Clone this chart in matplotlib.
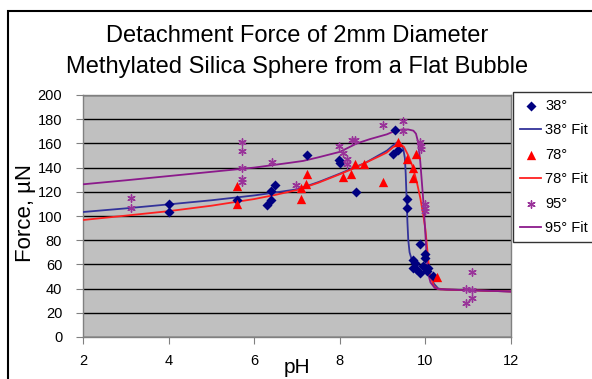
"""Detachment force vs pH for a methylated silica sphere (Excel-style chart)."""
import matplotlib
matplotlib.use('Agg')
import matplotlib.pyplot as plt
import matplotlib.patches as mpatches

plt.rcParams['font.family'] = ['Liberation Sans', 'DejaVu Sans']

# ── Measured points ───────────────────────────────────────────────────────
ph38 = [4.0, 4.0, 5.6, 6.3, 6.39, 6.39, 6.48, 7.24, 7.99, 8.0, 8.37, 9.25, 9.29,
        9.37, 9.58, 9.58, 9.87, 9.99, 9.99, 9.72, 9.76, 9.72, 9.79, 9.87, 9.95,
        10.07, 10.03, 10.18]
f38 = [110, 103, 113, 108.7, 113.4, 120.6, 125.9, 150.5, 146.5, 144, 120, 151.5, 171,
       154.6, 113.7, 107, 76.6, 68.3, 65, 64, 61.4, 57.3, 56, 53, 58.7,
       57.3, 54.5, 50.4]

ph78 = [5.6, 5.6, 7.1, 7.1, 7.2, 7.24, 8.07, 8.26, 8.36, 8.57, 9.0, 9.37, 9.56,
        9.7, 9.7, 9.78, 10.26]
f78 = [124.8, 110.2, 123, 114, 126.7, 134.4, 132, 134.5, 142.6, 142.6, 128.5, 161.5, 147,
       140, 131, 151.5, 49.8]

ph95 = [3.11, 3.11, 5.71, 5.71, 5.71, 5.71, 5.71, 6.41, 6.98, 7.99, 8.08, 8.17, 8.17,
        8.28, 8.36, 9.0, 9.48, 9.48, 9.87, 9.9, 9.9, 9.99, 9.99, 9.99,
        11.08, 10.96, 11.08, 11.08, 10.96]
f95 = [114.6, 107, 161, 154, 140, 130.6, 127.9, 145, 126, 158, 152, 147, 143,
       163, 163, 175, 178.5, 170, 160.8, 158, 155, 110, 107, 104,
       54, 39.5, 38.5, 32, 28.5]

# ── Fitted curves ─────────────────────────────────────────────────────────
fit38_ph = [2, 3, 4, 5, 6, 6.5, 7, 7.5, 8, 8.3, 8.6, 8.9, 9.1, 9.25, 9.35, 9.42,
            9.48, 9.52, 9.54, 9.56, 9.58, 9.6, 9.63, 9.68, 9.75, 9.85, 10.0,
            10.1, 10.2, 10.3, 10.5, 11, 12]
fit38_f = [103.3, 106.3, 109.6, 113, 117, 119.5, 122, 128, 135, 139.5, 144, 150,
           154, 158.5, 161, 160, 156, 148, 135, 115, 95, 80, 70, 64, 61, 59, 57,
           52, 44, 40, 39.2, 38.7, 37.6]

fit78_ph = [2, 3, 4, 5, 6, 6.5, 7, 7.5, 8, 8.3, 8.6, 8.9, 9.1, 9.25, 9.4, 9.5,
            9.6, 9.7, 9.8, 9.88, 9.95, 10.0, 10.05, 10.1, 10.2, 10.3, 10.5, 11, 12]
fit78_f = [96.7, 100.3, 104, 108.5, 114, 117.5, 121.5, 127.5, 134.5, 139, 144, 149,
           152.5, 157, 160, 157, 150, 141, 128, 115, 101, 89, 70, 52, 42, 39.5,
           39.2, 38.7, 37.6]

fit95_ph = [2, 3, 4, 5, 6, 6.84, 7.14, 7.5, 8, 8.4, 8.7, 9.1, 9.3, 9.45, 9.6, 9.72,
            9.78, 9.83, 9.88, 9.95, 10.0, 10.03, 10.06, 10.12, 10.22, 10.35, 11, 12]
fit95_f = [126.2, 129.5, 133, 136.5, 140, 144, 145.5, 148.5, 153, 160, 163.5, 167.5,
           170.5, 171.5, 171.5, 170.5, 168, 161, 145, 113, 85, 66, 53, 45, 40.5,
           39.4, 38.7, 37.6]

BLUE_M, BLUE_L = '#000080', '#33339a'
RED_M, RED_L = '#ff0000', '#ff2020'
PUR_M, PUR_L = '#993399', '#8b1a8b'

W, H = 592, 379
fig = plt.figure(figsize=(W / 100, H / 100), dpi=100)
fig.patch.set_facecolor('white')
ax = fig.add_axes([83 / W, 1 - 337 / H, (511 - 83) / W, (337 - 95) / H])
ax.set_facecolor('#c0c0c0')

ax.set_xlim(2, 12)
ax.set_ylim(0, 200)
ax.set_xticks(range(2, 13, 2))
ax.set_yticks(range(0, 201, 20))
ax.yaxis.grid(True, color='black', lw=1)
ax.set_axisbelow(True)
for s in ax.spines.values():
    s.set_color('#808080')
    s.set_linewidth(1)
ax.tick_params(direction='out', length=5, color='#808080', labelsize=10.5,
               labelcolor='black')
ax.tick_params(axis='y', pad=10)
ax.tick_params(axis='x', pad=7)

# lines first, markers on top
l38, = ax.plot(fit38_ph, fit38_f, color=BLUE_L, lw=1.3, zorder=3)
l78, = ax.plot(fit78_ph, fit78_f, color=RED_L, lw=1.3, zorder=3)
l95, = ax.plot(fit95_ph, fit95_f, color=PUR_L, lw=1.3, zorder=3)
s38 = ax.scatter(ph38, f38, marker='D', s=26, color=BLUE_M, lw=0, zorder=4)
s78 = ax.scatter(ph78, f78, marker='^', s=45, color=RED_M, lw=0, zorder=4)
s95 = ax.scatter(ph95, f95, marker=(6, 2, 0), s=28, color=PUR_M, lw=1.0, zorder=4)

leg = ax.legend([s38, l38, s78, l78, s95, l95],
                ['38°', '38° Fit', '78°', '78° Fit', '95°', '95° Fit'],
                loc='upper left', bbox_to_anchor=(513 / W, 1 - 92 / H),
                bbox_transform=fig.transFigure, frameon=True, fancybox=False,
                fontsize=10.5, handlelength=1.5, labelspacing=0.72,
                borderpad=0.45, handletextpad=0.25, borderaxespad=0)
leg.get_frame().set_edgecolor('black')
leg.get_frame().set_linewidth(1)

# titles and axis labels
fig.text(297 / W, 1 - 41.5 / H, 'Detachment Force of 2mm Diameter',
         ha='center', va='baseline', fontsize=17)
fig.text(297 / W, 1 - 73 / H, 'Methylated Silica Sphere from a Flat Bubble',
         ha='center', va='baseline', fontsize=17)
fig.text(26 / W, 1 - 213 / H, 'Force, µN', rotation=90,
         ha='center', va='center', fontsize=16)
fig.text(297 / W, 2 / H, 'pH', ha='center', va='bottom', fontsize=15)

# outer chart frame, running off the right and bottom edges
frame = mpatches.Rectangle((8 / W, -0.1), 1.2, (H - 11) / H + 0.1,
                           transform=fig.transFigure, fill=False,
                           lw=1.5, edgecolor='black')
fig.patches.append(frame)

fig.savefig('out.png', dpi=100)
